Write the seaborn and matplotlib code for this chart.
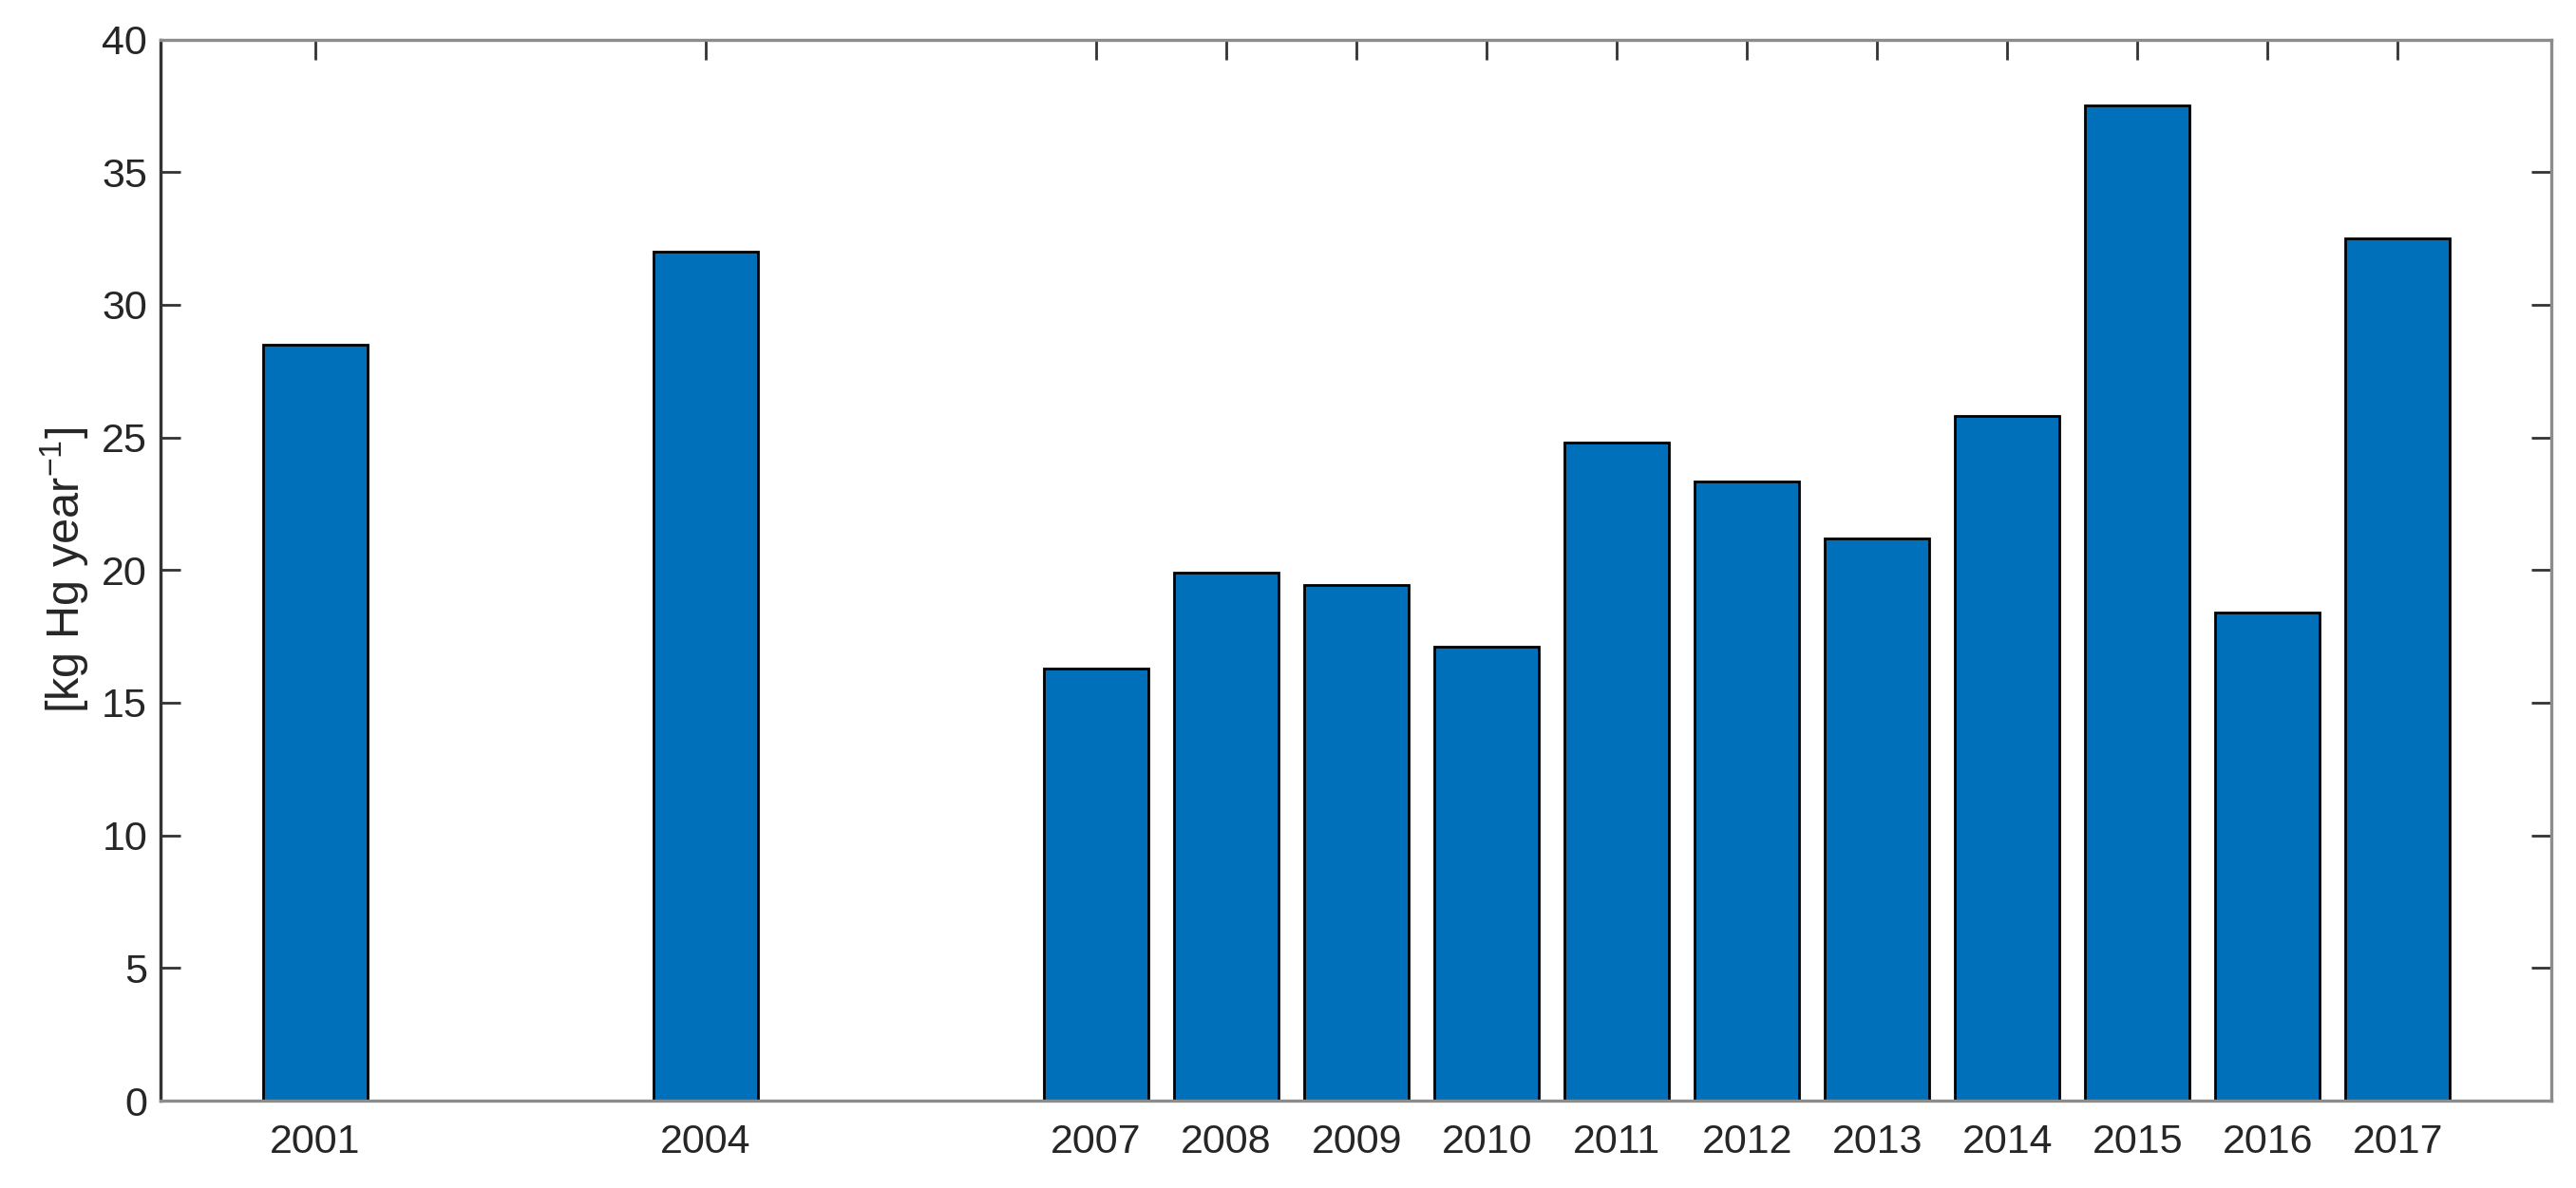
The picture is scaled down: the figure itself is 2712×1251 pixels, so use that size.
import matplotlib
matplotlib.use("Agg")
import matplotlib.pyplot as plt
import seaborn as sns
import pandas as pd

# Hg load per year
years = [2001, 2004, 2007, 2008, 2009, 2010, 2011, 2012, 2013, 2014, 2015, 2016, 2017]
hg_load = [28.5, 32.0, 16.3, 19.9, 19.45, 17.1, 24.8, 23.35, 21.2, 25.8, 37.5, 18.4, 32.5]
y_ticks = [0, 5, 10, 15, 20, 25, 30, 35, 40]

bar_color = "#0070bb"
text_color = "#262626"

sns.set_style("ticks")
plt.rcParams["font.family"] = ["Liberation Sans", "DejaVu Sans"]
plt.rcParams["mathtext.default"] = "regular"

df = pd.DataFrame({"year": years, "load": hg_load})

fig, ax = plt.subplots(figsize=(27.12, 12.51), dpi=100)
fig.subplots_adjust(left=0.0623, right=0.9904, bottom=0.0735, top=0.9668)

sns.barplot(data=df, x="year", y="load", native_scale=True, width=0.8,
            color=bar_color, saturation=1, edgecolor="black", linewidth=2,
            errorbar=None, ax=ax)

ax.set_xlim(1999.81, 2018.18)
ax.set_ylim(0, 40)
ax.set_xticks(years)
ax.set_xticklabels([str(y) for y in years])
ax.set_yticks(y_ticks)
ax.set_yticklabels([str(t) for t in y_ticks])

ax.set_xlabel("")
ax.set_ylabel("[kg Hg year$^{-1}$]", fontsize=35, color=text_color, labelpad=8)

ax.tick_params(axis="both", direction="in", length=15, width=2,
               colors="#333333", labelcolor=text_color, labelsize=31,
               top=True, right=True)
ax.tick_params(axis="x", pad=17)
ax.tick_params(axis="y", pad=10)

for side in ["top", "right", "bottom"]:
    ax.spines[side].set_visible(True)
    ax.spines[side].set_color("#8c8c8c")
    ax.spines[side].set_linewidth(2.4)
ax.spines["left"].set_color("#333333")
ax.spines["left"].set_linewidth(2.4)

fig.savefig("out.png", dpi=100)
